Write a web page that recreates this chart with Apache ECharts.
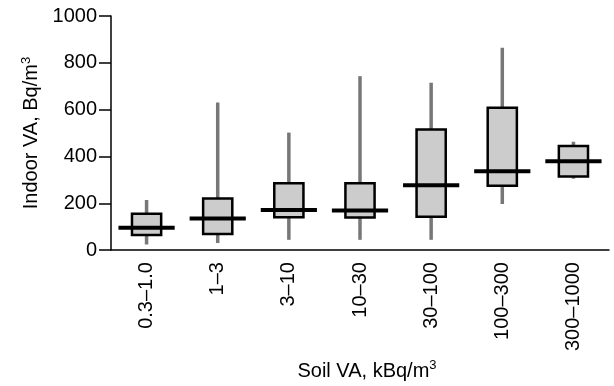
<!DOCTYPE html>
<html>
<head>
<meta charset="utf-8">
<script src="https://cdn.jsdelivr.net/npm/echarts@6/dist/echarts.min.js"></script>
<style>
  html, body { margin: 0; padding: 0; background: #fff; }
  #chart { width: 614px; height: 386px; }
</style>
</head>
<body>
<div id="chart"></div>
<script>
const categories = ["0.3–1.0", "1–3", "3–10", "10–30", "30–100", "100–300", "300–1000"];
const whiskerLow = [24, 30, 44, 44, 44, 197, 305];
const q1 = [65, 69, 140, 139, 143, 275, 314];
const median = [95, 135, 171, 169, 277, 337, 380];
const q3 = [155, 221, 286, 286, 515, 608, 445];
const whiskerHigh = [214, 630, 502, 743, 715, 864, 463];
const yTicks = [0, 200, 400, 600, 800, 1000];

const FONT = "'Liberation Sans', Arial, sans-serif";

const boxData = categories.map((c, i) => [i, whiskerLow[i], q1[i], median[i], q3[i], whiskerHigh[i]]);

const chart = echarts.init(document.getElementById("chart"));

function renderBox(params, api) {
  const idx = api.value(0);
  const band = api.size([1, 0])[0];
  const low = api.coord([idx, api.value(1)]);
  const lo = api.coord([idx, api.value(2)]);
  const mid = api.coord([idx, api.value(3)]);
  const hi = api.coord([idx, api.value(4)]);
  const high = api.coord([idx, api.value(5)]);
  const boxW = band * 0.41;
  const medW = band * 0.79;
  const x = low[0];
  return {
    type: "group",
    children: [
      {
        type: "line",
        shape: { x1: x, y1: low[1], x2: x, y2: high[1] },
        style: { stroke: "#777777", lineWidth: 3.5 }
      },
      {
        type: "rect",
        shape: { x: x - boxW / 2, y: hi[1], width: boxW, height: lo[1] - hi[1] },
        style: { fill: "#cccccc", stroke: "#000000", lineWidth: 2.5 }
      },
      {
        type: "line",
        shape: { x1: x - medW / 2, y1: mid[1], x2: x + medW / 2, y2: mid[1] },
        style: { stroke: "#000000", lineWidth: 4 }
      }
    ]
  };
}

const option = {
  animation: false,
  grid: { left: 111, right: 5, top: 16, bottom: 135 },
  xAxis: {
    type: "category",
    data: categories,
    boundaryGap: true,
    name: "{a|Soil VA, kBq/m}{s|3}",
    nameLocation: "middle",
    nameGap: 96,
    nameTextStyle: {
      padding: [0, 0, 0, 14],
      rich: {
        a: { fontFamily: FONT, fontSize: 20, color: "#000", lineHeight: 24 },
        s: { fontFamily: FONT, fontSize: 13, color: "#000", lineHeight: 22, verticalAlign: "top" }
      }
    },
    axisLine: { lineStyle: { color: "#000", width: 1.5 } },
    axisTick: { alignWithLabel: false, length: 12, lineStyle: { color: "#000", width: 1.5 } },
    axisLabel: {
      rotate: 90,
      margin: 12,
      interval: 0,
      fontFamily: FONT,
      fontSize: 20,
      color: "#000"
    },
    splitLine: { show: false }
  },
  yAxis: {
    type: "value",
    min: yTicks[0],
    max: yTicks[yTicks.length - 1],
    interval: 200,
    name: "{a|Indoor VA, Bq/m}{s|3}",
    nameLocation: "middle",
    nameGap: 66,
    nameRotate: 90,
    nameTextStyle: {
      rich: {
        a: { fontFamily: FONT, fontSize: 20, color: "#000", lineHeight: 24 },
        s: { fontFamily: FONT, fontSize: 13, color: "#000", lineHeight: 22, verticalAlign: "top" }
      }
    },
    axisLine: { show: true, lineStyle: { color: "#000", width: 1.5 } },
    axisTick: { show: true, length: 12, lineStyle: { color: "#000", width: 1.5 } },
    axisLabel: {
      margin: 14,
      fontFamily: FONT,
      fontSize: 20,
      color: "#000",
      formatter: (v) => String(v)
    },
    splitLine: { show: false }
  },
  series: [
    {
      type: "custom",
      renderItem: renderBox,
      encode: { x: 0, y: [1, 2, 3, 4, 5] },
      data: boxData,
      clip: false
    }
  ]
};

chart.setOption(option);
</script>
</body>
</html>
